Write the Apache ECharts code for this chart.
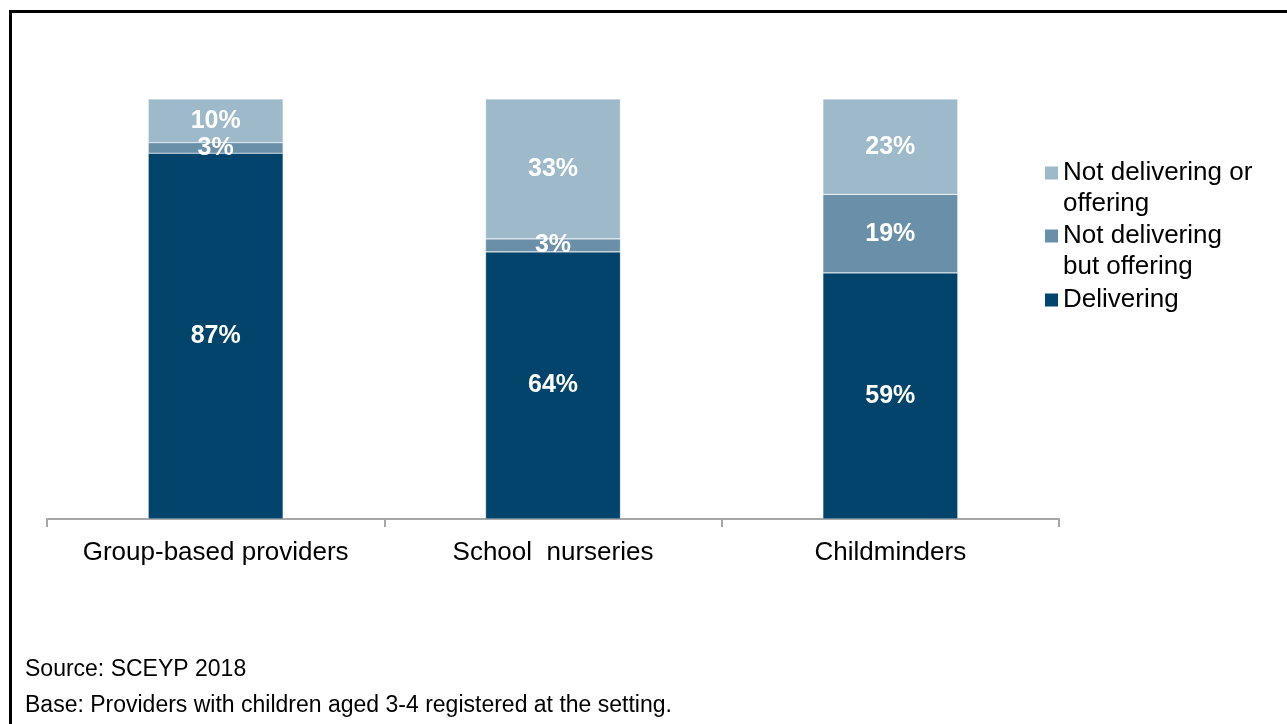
<!DOCTYPE html>
<html>
<head>
<meta charset="utf-8">
<script src="https://cdn.jsdelivr.net/npm/echarts@6/dist/echarts.min.js"></script>
<style>
  html, body { margin: 0; padding: 0; background: #fff; }
  #chart { width: 1287px; height: 724px; }
</style>
</head>
<body>
<div id="chart"></div>
<script>
// categories and stacked shares (%)
const categories = ['Group-based providers', 'School  nurseries', 'Childminders'];
const delivering = [87.1, 63.6, 58.6];
const offeringOnly = [2.5, 3.1, 18.7];
const notOffering = [10.4, 33.3, 22.7];

const seriesNames = ['Delivering', 'Not delivering\nbut offering', 'Not delivering or\noffering'];
const colors = ['#02446B', '#6A8FA8', '#9EB9C9'];
const sourceLines = ['Source: SCEYP 2018', 'Base: Providers with children aged 3-4 registered at the setting.'];

const FONT = 'Liberation Sans, Arial, sans-serif';

const chart = echarts.init(document.getElementById('chart'));

const makeSeries = (name, data, color) => ({
  name: name,
  type: 'bar',
  stack: 'total',
  barWidth: '40%',
  data: data,
  itemStyle: { color: color, borderColor: 'rgba(255,255,255,0.45)', borderWidth: 0.6 },
  label: {
    show: true,
    position: 'inside',
    color: '#fff',
    fontFamily: FONT,
    fontWeight: 'bold',
    fontSize: 25,
    formatter: (p) => Math.round(p.value) + '%',
  },
  emphasis: { disabled: true },
});

// legend icon sitting beside the first line of a two-line label
const topIcon = 'path://M0,0h13v13h-13zM0,44L0,44';

const legendBase = {
  orient: 'vertical',
  left: 1045,
  padding: 0,
  itemWidth: 13,
  itemGap: 5,
  selectedMode: false,
  textStyle: { fontFamily: FONT, fontSize: 26, color: '#000', lineHeight: 31 },
  itemStyle: { borderWidth: 0 },
};

const option = {
  animation: false,
  backgroundColor: '#fff',
  grid: { left: 47, right: 228, top: 99, bottom: 205 },
  legend: [
    Object.assign({}, legendBase, { top: 157.5, itemHeight: 44, data: [{ name: seriesNames[2], icon: topIcon }] }),
    Object.assign({}, legendBase, { top: 220.5, itemHeight: 44, data: [{ name: seriesNames[1], icon: topIcon }] }),
    Object.assign({}, legendBase, { top: 284.5, itemHeight: 13, data: [{ name: seriesNames[0], icon: 'rect' }] }),
  ],
  xAxis: {
    type: 'category',
    data: categories,
    axisLine: { lineStyle: { color: '#A6A6A6', width: 2 } },
    axisTick: { show: true, interval: 0, length: 8, lineStyle: { color: '#A6A6A6', width: 2 } },
    axisLabel: { interval: 0, color: '#000', fontFamily: FONT, fontSize: 26, margin: 21 },
  },
  yAxis: {
    type: 'value',
    min: 0,
    max: 100,
    show: false,
    splitLine: { show: false },
  },
  series: [
    makeSeries(seriesNames[0], delivering, colors[0]),
    makeSeries(seriesNames[1], offeringOnly, colors[1]),
    makeSeries(seriesNames[2], notOffering, colors[2]),
  ],
  graphic: [
    {
      type: 'rect',
      shape: { x: 10.5, y: 11.5, width: 1400, height: 800 },
      style: { fill: 'none', stroke: '#000', lineWidth: 3 },
      silent: true,
    },
    {
      type: 'text',
      x: 25,
      y: 670,
      style: { text: sourceLines[0], fontFamily: FONT, fontSize: 23, fill: '#000', verticalAlign: 'middle' },
    },
    {
      type: 'text',
      x: 25,
      y: 706,
      style: { text: sourceLines[1], fontFamily: FONT, fontSize: 23, fill: '#000', verticalAlign: 'middle' },
    },
  ],
};

chart.setOption(option);
</script>
</body>
</html>
